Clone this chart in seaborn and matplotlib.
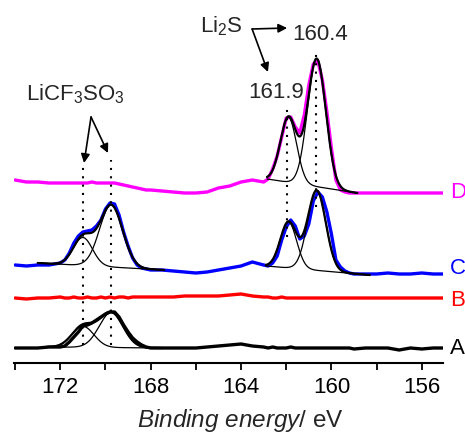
import numpy as np
import matplotlib
matplotlib.use("Agg")
import matplotlib.pyplot as plt
import seaborn as sns

# energia de enlace (eV) y espectros S 2p (u.a., ya desplazados)
energia = [174.0, 173.5, 173.0, 172.5, 172.0,
           171.8, 171.6, 171.4, 171.2, 171.0, 170.8, 170.6, 170.4, 170.2, 170.0,
           169.8, 169.6, 169.4, 169.2, 169.0, 168.8, 168.6, 168.4, 168.2, 168.0,
           167.5, 167.0, 166.5, 166.0, 165.5, 165.0, 164.5, 164.0, 163.5, 163.0,
           162.8, 162.6, 162.4, 162.2, 162.0, 161.8, 161.6, 161.4, 161.2, 161.0,
           160.8, 160.6, 160.4, 160.2, 160.0, 159.8, 159.6, 159.4, 159.2, 159.0,
           158.5, 158.0, 157.5, 157.0, 156.5, 156.0, 155.5, 155.0]

esp_A = [15, 15, 15, 16, 16,
         17, 21, 26, 31, 37, 38, 40, 43, 46, 49,
         51, 51, 46, 38, 31, 25, 21, 18, 16, 15,
         15, 15, 15, 15, 16, 17, 18, 19, 17, 16,
         15, 16, 15, 15, 15, 16, 15, 15, 15, 15,
         15, 15, 15, 15, 15, 15, 15, 15, 15, 14,
         15, 15, 15, 13, 15, 14, 15, 15]

esp_B = [65, 64, 65, 65, 66,
         65, 65, 66, 65, 65, 66, 65, 65, 66, 65,
         66, 65, 66, 66, 65, 66, 66, 66, 66, 66,
         66, 66, 67, 67, 67, 67, 68, 69, 67, 66,
         66, 65, 65, 66, 65, 65, 65, 65, 65, 65,
         65, 65, 65, 65, 65, 65, 65, 65, 65, 65,
         65, 65, 65, 65, 65, 65, 65, 65]

esp_C = [98, 97, 98, 98, 100,
         103, 110, 120, 127, 131, 132, 133, 137, 143, 154,
         160, 159, 148, 131, 117, 105, 98, 95, 94, 93,
         93, 92, 91, 90, 91, 93, 95, 97, 101, 98,
         97, 100, 107, 123, 136, 143, 137, 124, 127, 139,
         162, 171, 166, 151, 129, 103, 96, 92, 90, 89,
         89, 89, 90, 89, 89, 90, 89, 89]

esp_D = [183, 181, 181, 180, 180,
         180, 180, 180, 180, 180, 180, 181, 180, 180, 180,
         180, 180, 179, 178, 177, 176, 175, 174, 173, 173,
         172, 171, 170, 170, 171, 175, 177, 181, 183, 181,
         184, 194, 207, 226, 245, 246, 236, 230, 248, 278,
         299, 302, 283, 251, 215, 183, 173, 171, 170, 170,
         170, 170, 170, 170, 170, 170, 170, 170]

# ajustes: (E alta, E baja), fondo en cada extremo, picos (centro, altura, FWHM)
ajustes = [
    ((172.6, 167.5), (16, 15), [(171.0, 21, 1.15), (169.75, 35, 1.25)]),
    ((173.0, 167.4), (100, 93), [(171.0, 28, 1.0), (169.75, 62, 1.2)]),
    ((162.9, 158.3), (97, 88), [(161.9, 46, 0.85), (160.65, 80, 0.95)]),
    ((162.85, 158.85), (184, 170), [(161.9, 65, 0.85), (160.65, 128, 0.95)]),
]

colores = {"A": "black", "B": "red", "C": "blue", "D": "magenta"}
espectros = {"A": esp_A, "B": esp_B, "C": esp_C, "D": esp_D}
pos_letras = {"A": 15, "B": 63, "C": 94, "D": 171}

sns.set_style("ticks")
plt.rcParams["font.family"] = ["Liberation Sans", "DejaVu Sans"]
plt.rcParams["mathtext.fontset"] = "custom"
plt.rcParams["mathtext.rm"] = "Liberation Sans"
plt.rcParams["mathtext.it"] = "Liberation Sans:italic"

fs = 16

fig = plt.figure(figsize=(4.65, 4.33), dpi=100)
ax = fig.add_axes([14 / 465, 70 / 433, 429 / 465, 363 / 433])

for k in ["A", "B", "C", "D"]:
    sns.lineplot(x=energia, y=espectros[k], color=colores[k], lw=2.4,
                 sort=False, ax=ax, zorder=2)
    ax.text(154.75, pos_letras[k], k, color=colores[k], fontsize=fs,
            ha="left", va="center", clip_on=False)

for (e_hi, e_lo), (f_hi, f_lo), picos in ajustes:
    e = np.linspace(e_hi, e_lo, 200)
    fondo = f_hi + (f_lo - f_hi) * (e_hi - e) / (e_hi - e_lo)
    total = fondo.copy()
    for c, h, w in picos:
        g = h * np.exp(-4 * np.log(2) * ((e - c) / w) ** 2)
        total += g
        ax.plot(e, fondo + g, color="black", lw=0.9, zorder=3)
    ax.plot(e, total, color="black", lw=1.6, zorder=4)

# lineas punteadas de posicion de picos
punteadas = [(171.0, 18, 200), (169.75, 18, 203), (161.95, 126, 255), (160.67, 156, 311)]
for x0, y0, y1 in punteadas:
    ax.plot([x0, x0], [y0, y1], color="black", lw=1.5, ls=(0, (1, 3)), zorder=5)

flecha = dict(arrowstyle="-|>", color="black", lw=1.2, mutation_scale=13,
              shrinkA=0, shrinkB=0)
ax.text(171.32, 263, r"LiCF$_3$SO$_3$", fontsize=fs, ha="center", va="baseline")
ax.annotate("", xy=(170.95, 200), xytext=(170.64, 246), arrowprops=flecha)
ax.annotate("", xy=(169.89, 210), xytext=(170.64, 246), arrowprops=flecha)

ax.text(164.86, 331, r"Li$_2$S", fontsize=fs, ha="center", va="baseline")
ax.annotate("", xy=(161.96, 335), xytext=(163.51, 334), arrowprops=flecha)
ax.annotate("", xy=(162.81, 291), xytext=(163.51, 334), arrowprops=flecha)
ax.text(160.48, 323, "160.4", fontsize=fs, ha="center", va="baseline")
ax.text(162.45, 265, "161.9", fontsize=fs, ha="center", va="baseline")

ax.set_xlim(174.05, 155.06)
ax.set_ylim(0, 363)
ax.set_xticks([172, 168, 164, 160, 156])
ax.set_xticks([174, 170, 166, 162, 158], minor=True)
ax.tick_params(axis="x", which="both", direction="out", labelsize=fs,
               width=1.3, length=5, pad=5, colors="black")
ax.set_yticks([])
for s in ["left", "top", "right"]:
    ax.spines[s].set_visible(False)
ax.spines["bottom"].set_linewidth(1.5)
ax.spines["bottom"].set_color("black")
ax.patch.set_alpha(0)

fig.text(240 / 465, 1 - 427 / 433, r"$\mathit{Binding\ energy/}$ eV",
         fontsize=17.5, ha="center", va="baseline")

fig.savefig("out.png", dpi=100)
